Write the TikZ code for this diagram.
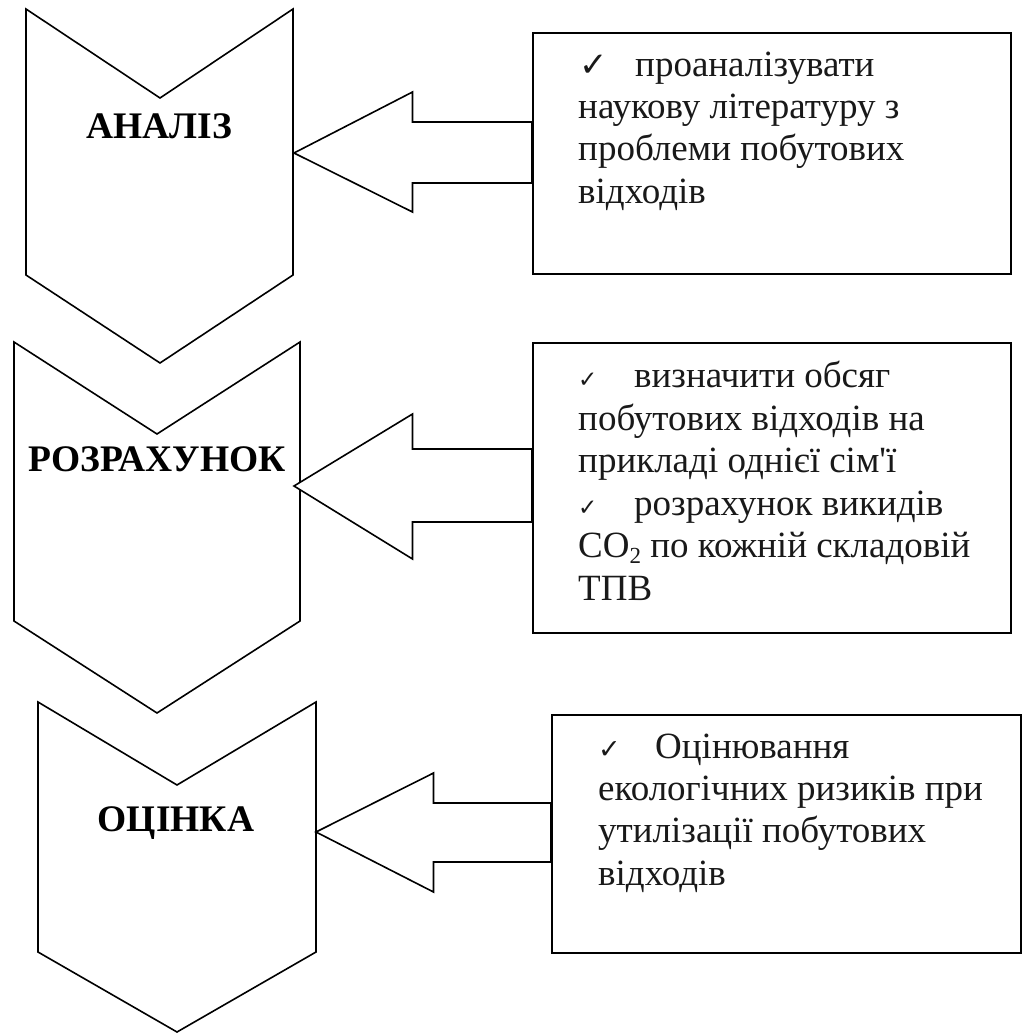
\documentclass[tikz,border=0pt]{standalone}
\usepackage{fontspec}
\setmainfont{Liberation Serif}
\newfontfamily\symfont{DejaVu Sans}
\newcommand{\chk}[2]{\makebox[#1][l]{\symfont\fontsize{#2}{#2}\selectfont ✓}}
\newcommand{\subtwo}{\raisebox{-6pt}{\fontsize{23}{23}\selectfont 2}}
\begin{document}
\begin{tikzpicture}[x=1pt,y=-1pt,
  shp/.style={draw=black,line width=1.6pt,line join=miter,fill=white},
  boxst/.style={draw=black,line width=1.6pt,fill=white,inner sep=0pt,anchor=north west},
  head/.style={font=\fontsize{37.5}{42}\selectfont\bfseries,anchor=base,inner sep=0pt},
  txt/.style={font=\fontsize{37}{42}\selectfont,text=black!90,anchor=base west,inner sep=0pt}]
\useasboundingbox (0,0) rectangle (1022,1034);
% chevrons
\draw[shp] (26,9) -- (160,98) -- (293,9) -- (293,275) -- (160,363) -- (26,275) -- cycle;
\draw[shp] (14,342) -- (157,434) -- (300,342) -- (300,621) -- (157,713) -- (14,621) -- cycle;
\draw[shp] (38,702) -- (177,785) -- (316,702) -- (316,952) -- (177,1032) -- (38,952) -- cycle;
\node[head] (h1) at (159,138) {АНАЛІЗ};
\node[head] (h2) at (157,471) {РОЗРАХУНОК};
\node[head] (h3) at (176,831) {ОЦІНКА};
% block arrows
\draw[shp] (294,153) -- (412.5,92) -- (412.5,122) -- (532,122) -- (532,183) -- (412.5,183) -- (412.5,212) -- cycle;
\draw[shp] (294,486) -- (412.5,414) -- (412.5,449) -- (532,449) -- (532,522) -- (412.5,522) -- (412.5,559) -- cycle;
\draw[shp] (316,832) -- (433.5,773) -- (433.5,803) -- (551,803) -- (551,862) -- (433.5,862) -- (433.5,892) -- cycle;
% boxes
\node[boxst,minimum width=478pt,minimum height=241pt] (b1) at (532,32) {};
\node[boxst,minimum width=478pt,minimum height=290pt] (b2) at (532,342) {};
\node[boxst,minimum width=469pt,minimum height=238pt] (b3) at (551,714) {};
% texts box 1
\node[txt] (t11) at (579,76) {\chk{56pt}{34}проаналізувати};
\node[txt] (t12) at (578,118) {наукову літературу з};
\node[txt] (t13) at (578,160) {проблеми побутових};
\node[txt] (t14) at (578,203) {відходів};
% texts box 2
\node[txt] (t21) at (578,387) {\chk{56pt}{23}визначити обсяг};
\node[txt] (t22) at (578,430) {побутових відходів на};
\node[txt] (t23) at (578,472) {прикладі однієї сім\textquotesingle ї};
\node[txt] (t24) at (578,515) {\chk{56pt}{23}розрахунок викидів};
\node[txt] (t25) at (578,557) {СО\subtwo{} по кожній складовій};
\node[txt] (t26) at (578,600) {ТПВ};
% texts box 3
\node[txt] (t31) at (598,758) {\chk{57pt}{27}Оцінювання};
\node[txt] (t32) at (598,800) {екологічних ризиків при};
\node[txt] (t33) at (598,842) {утилізації побутових};
\node[txt] (t34) at (598,885) {відходів};
\end{tikzpicture}
\end{document}
